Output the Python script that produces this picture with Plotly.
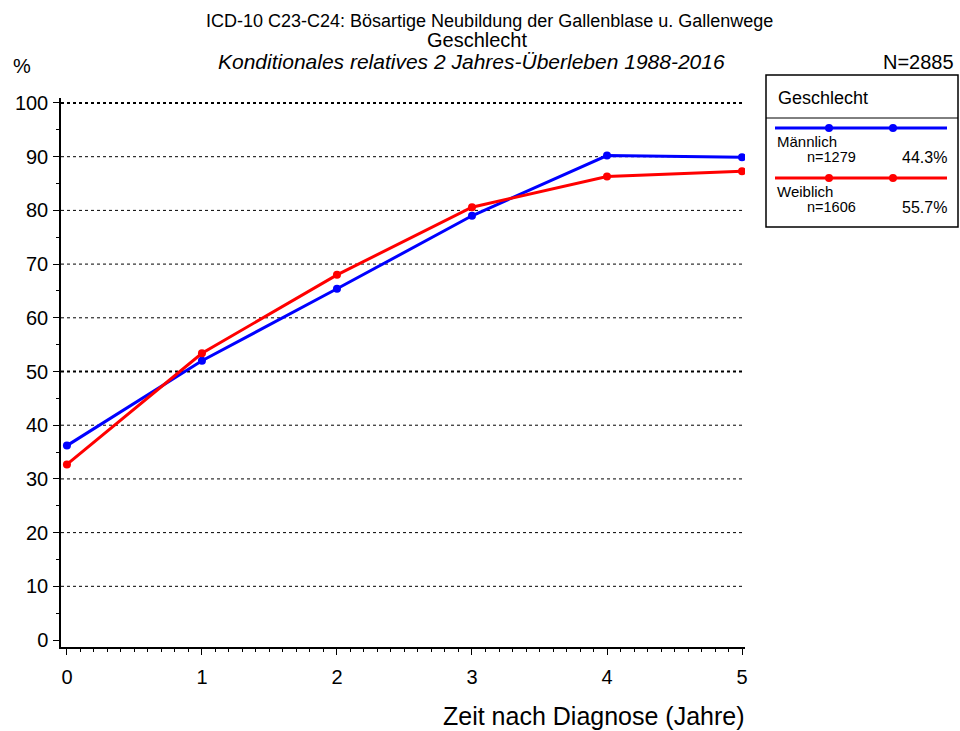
import plotly.graph_objects as go

# ---- data ----
years = [0, 1, 2, 3, 4, 5]
maennlich = [36.2, 52.0, 65.4, 79.0, 90.2, 89.9]
weiblich = [32.7, 53.4, 68.0, 80.6, 86.3, 87.3]
grid_levels = [10, 20, 30, 40, 60, 70, 80, 90]
bold_levels = [50, 100]
y_ticks = [0, 10, 20, 30, 40, 50, 60, 70, 80, 90, 100]
x_ticks = [0, 1, 2, 3, 4, 5]
legend_rows = [
    ("Männlich", "n=1279", "44.3%", "#0000ff"),
    ("Weiblich", "n=1606", "55.7%", "#ff0000"),
]

FONT = "Liberation Sans, Arial, sans-serif"
W, H = 960, 731
L, R, T, B = 61, 745, 98, 647


def px(x):
    return (x - L) / (R - L)


def py(y):
    return (B - y) / (B - T)


fig = go.Figure()
fig.add_trace(go.Scatter(x=years, y=maennlich, mode="lines+markers",
                         line=dict(color="#0000ff", width=3),
                         marker=dict(size=8, color="#0000ff"), showlegend=False))
fig.add_trace(go.Scatter(x=years, y=weiblich, mode="lines+markers",
                         line=dict(color="#ff0000", width=3),
                         marker=dict(size=8, color="#ff0000"), showlegend=False))

shapes = []
for g in grid_levels:
    shapes.append(dict(type="line", xref="paper", yref="y", x0=0, x1=1, y0=g, y1=g,
                       line=dict(color="black", width=1, dash="dot"), layer="below"))
for g in bold_levels:
    shapes.append(dict(type="line", xref="paper", yref="y", x0=0, x1=1, y0=g, y1=g,
                       line=dict(color="black", width=2, dash="dot"), layer="below"))

# legend box
shapes.append(dict(type="rect", xref="paper", yref="paper", x0=px(766), x1=px(958),
                   y0=py(227), y1=py(75), line=dict(color="black", width=1.5)))
shapes.append(dict(type="line", xref="paper", yref="paper", x0=px(766), x1=px(958),
                   y0=py(118), y1=py(118), line=dict(color="black", width=1)))

annotations = [
    dict(text="ICD-10 C23-C24: Bösartige Neubildung der Gallenblase u. Gallenwege",
         x=px(490), y=py(21), xref="paper", yref="paper", showarrow=False,
         font=dict(size=18, family=FONT, color="black"), xanchor="center", yanchor="middle"),
    dict(text="Geschlecht", x=px(477), y=py(40), xref="paper", yref="paper", showarrow=False,
         font=dict(size=20, family=FONT, color="black"), xanchor="center", yanchor="middle"),
    dict(text="<i>Konditionales relatives 2 Jahres-Überleben 1988-2016</i>",
         x=px(471), y=py(62), xref="paper", yref="paper", showarrow=False,
         font=dict(size=21, family=FONT, color="black"), xanchor="center", yanchor="middle"),
    dict(text="%", x=px(11), y=py(66), xref="paper", yref="paper", showarrow=False,
         font=dict(size=20, family=FONT, color="black"), xanchor="left", yanchor="middle"),
    dict(text="N=2885", x=px(956), y=py(62), xref="paper", yref="paper", showarrow=False,
         font=dict(size=20, family=FONT, color="black"), xanchor="right", yanchor="middle"),
    dict(text="Zeit nach Diagnose (Jahre)", x=px(747), y=py(716), xref="paper", yref="paper",
         showarrow=False, font=dict(size=25, family=FONT, color="black"),
         xanchor="right", yanchor="middle"),
    dict(text="Geschlecht", x=px(776), y=py(98), xref="paper", yref="paper", showarrow=False,
         font=dict(size=18, family=FONT, color="black"), xanchor="left", yanchor="middle"),
]

row_y = [128, 178]
for (name, n, pct, col), ly in zip(legend_rows, row_y):
    shapes.append(dict(type="line", xref="paper", yref="paper", x0=px(775), x1=px(947),
                       y0=py(ly), y1=py(ly), line=dict(color=col, width=3)))
    for cx in (829, 893):
        shapes.append(dict(type="circle", xref="paper", yref="paper",
                           x0=px(cx - 4), x1=px(cx + 4), y0=py(ly + 4), y1=py(ly - 4),
                           fillcolor=col, line=dict(color=col, width=0)))
    annotations.append(dict(text=name, x=px(775), y=py(ly + 13), xref="paper", yref="paper",
                            showarrow=False, font=dict(size=15, family=FONT, color="black"),
                            xanchor="left", yanchor="middle"))
    annotations.append(dict(text=n, x=px(805), y=py(ly + 29), xref="paper", yref="paper",
                            showarrow=False, font=dict(size=14.5, family=FONT, color="black"),
                            xanchor="left", yanchor="middle"))
    annotations.append(dict(text=pct, x=px(949), y=py(ly + 29), xref="paper", yref="paper",
                            showarrow=False, font=dict(size=16, family=FONT, color="black"),
                            xanchor="right", yanchor="middle"))

fig.update_layout(
    width=W, height=H,
    margin=dict(l=L, r=W - R, t=T, b=H - B, pad=0),
    paper_bgcolor="white", plot_bgcolor="white",
    font=dict(family=FONT, color="black"),
    shapes=shapes, annotations=annotations,
    showlegend=False,
    xaxis=dict(range=[-0.044, 5.022], tickvals=x_ticks, ticks="outside", ticklen=6,
               tickcolor="black", tickwidth=1, showgrid=False, zeroline=False,
               showline=True, linecolor="black", linewidth=1.5, ticklabelstandoff=5,
               tickfont=dict(size=20, family=FONT, color="black"),
               minor=dict(dtick=0.1, tick0=0, ticks="outside", ticklen=3, tickcolor="black",
                          showgrid=False)),
    yaxis=dict(range=[-1.3, 100.93], tickvals=y_ticks, ticks="outside", ticklen=6,
               tickcolor="black", tickwidth=1, showgrid=False, zeroline=False,
               showline=True, linecolor="black", linewidth=1.5, ticklabelstandoff=1,
               tickfont=dict(size=20, family=FONT, color="black"),
               minor=dict(dtick=5, tick0=0, ticks="outside", ticklen=3, tickcolor="black",
                          showgrid=False)),
)

fig.write_html("out.html", config={"displayModeBar": False},
               post_script="document.body.style.margin='0';document.body.style.padding='0';")
